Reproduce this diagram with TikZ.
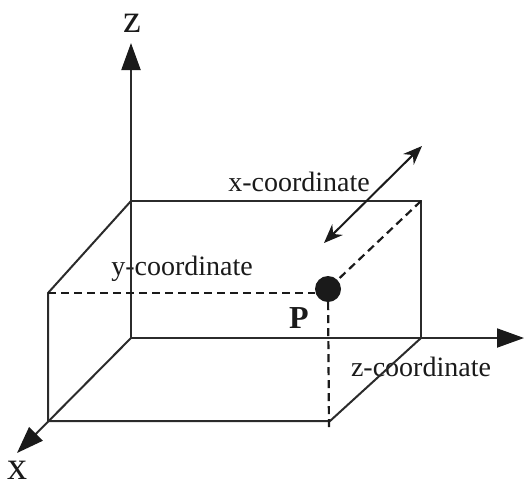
\documentclass[tikz,border=0pt]{standalone}
\usepackage{xcolor}
\usepackage{fontspec}
\setmainfont{Liberation Serif}
\usetikzlibrary{arrows.meta, positioning, calc}
\definecolor{inkdark}{HTML}{1A1A1A}
\definecolor{edgegray}{HTML}{2B2B2B}
\tikzset{
  edge/.style={line width=2pt, color=edgegray},
  axis/.style={edge, -{Triangle[length=27pt, width=19pt, color=inkdark]}},
  hidden/.style={line width=2.2pt, color=inkdark, dash pattern=on 8pt off 5pt},
  double/.style={line width=2pt, color=inkdark, {Stealth[length=19pt, width=15pt]}-{Stealth[length=19pt, width=15pt]}},
  point/.style={circle, fill=inkdark, inner sep=0pt, minimum size=26pt},
  coordlabel/.style={inner sep=0pt, text=inkdark, font=\fontsize{28}{32}\selectfont},
  axislabel/.style={inner sep=0pt, anchor=base, text=inkdark, font=\fontsize{40}{44}\selectfont},
}
\begin{document}
\begin{tikzpicture}[x=1pt, y=-1pt]
  \useasboundingbox (0,0) rectangle (524,488);

  % corners of the box
  \coordinate (origin) at (131,338);
  \coordinate (backtop) at (131,201);
  \coordinate (righttop) at (421,201);
  \coordinate (rightbase) at (421,338);
  \coordinate (fronttop) at (48,293);
  \coordinate (frontbase) at (48,421);
  \coordinate (cornerbase) at (330,421);
  \coordinate (drop) at (329,430);

  % axis ends
  \coordinate (ztip) at (131,43);
  \coordinate (ytip) at (524,338);
  \coordinate (xtip) at (17,453);
  \coordinate (movea) at (324,243);
  \coordinate (moveb) at (422,146);

  \node[point] (P) at (328,289) {};
  \node[coordlabel, font=\fontsize{32}{36}\selectfont\bfseries] (plabel) at (299,318) {P};
  \node[axislabel] (zlabel) at (132,32) {z};
  \node[axislabel] (xlabel) at (18,479) {x};
  \node[coordlabel] (xcoord) at (299,182) {x-coordinate};
  \node[coordlabel] (ycoord) at (182,269) {y-coordinate};
  \node[coordlabel] (zcoord) at (421,367) {z-coordinate};

  \draw[axis] (origin) -- (ztip);
  \draw[axis] (origin) -- (ytip);
  \draw[axis] (origin) -- (xtip);

  \draw[edge] (backtop) -- (righttop) -- (rightbase);
  \draw[edge] (backtop) -- (fronttop) -- (frontbase) -- (cornerbase) -- (rightbase);

  \draw[hidden] (fronttop) -- (P.west |- fronttop);
  \draw[hidden] (righttop) -- (P);
  \draw[hidden] (P) -- (drop);

  \draw[double] (movea) -- (moveb);
\end{tikzpicture}
\end{document}
